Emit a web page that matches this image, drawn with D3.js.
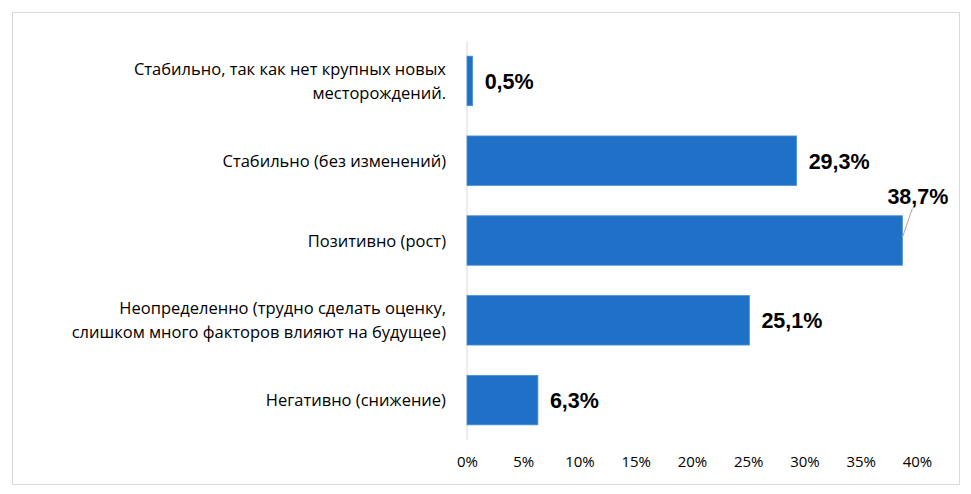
<!DOCTYPE html><html><head><meta charset="utf-8"><script src="https://cdn.jsdelivr.net/npm/d3@7"></script>
<style>body{margin:0;background:#fff}</style></head><body><svg id="c" width="971" height="494"></svg>
<script>
const categories=[["Стабильно, так как нет крупных новых","месторождений."],["Стабильно (без изменений)"],["Позитивно (рост)"],["Неопределенно (трудно сделать оценку,","слишком много факторов влияют на будущее)"],["Негативно (снижение)"]];
const values=[0.5,29.3,38.7,25.1,6.3];
const valueLabels=["0,5%","29,3%","38,7%","25,1%","6,3%"];
const ticks=[0,5,10,15,20,25,30,35,40];
const svg=d3.select("#c");
const font="'Liberation Sans', Arial, sans-serif";
const font2="'Open Sans', sans-serif";
svg.append("rect").attr("x",12.5).attr("y",12.5).attr("width",947).attr("height",472).attr("fill","#fff").attr("stroke","#d9d9d9");
const x=d3.scaleLinear().domain([0,40]).range([467,917]);
const y=d3.scaleBand().domain(d3.range(5)).range([41,440]).paddingInner(0.38).paddingOuter(0.19);
svg.append("line").attr("x1",467).attr("x2",467).attr("y1",41).attr("y2",440).attr("stroke","#d9d9d9");
const ax=svg.append("g").attr("transform","translate(0,440)").call(d3.axisBottom(x).tickValues(ticks).tickFormat(d=>d+"%").tickSize(0).tickPadding(16));
ax.select(".domain").remove();
ax.selectAll("text").attr("font-family",font2).attr("font-size",15).attr("fill","#000");
const g=svg.selectAll(".b").data(values).enter().append("g");
g.append("rect").attr("x",x(0)).attr("y",(d,i)=>y(i)).attr("width",d=>x(d)-x(0)).attr("height",y.bandwidth()).attr("fill","#1f71c8").attr("stroke","#4a8fd6").attr("stroke-width",0.8);
categories.forEach((lines,i)=>{
  const cy=y(i)+y.bandwidth()/2;
  const t=svg.append("text").attr("text-anchor","end").attr("font-family",font2).attr("font-size",16.5).attr("fill","#000");
  lines.forEach((l,k)=>t.append("tspan").attr("x",446).attr("y",cy+6-(lines.length-1)*12+k*24).text(l));
});
values.forEach((v,i)=>{
  const cy=y(i)+y.bandwidth()/2;
  if(i===2){
    svg.append("line").attr("x1",x(v)).attr("y1",cy-3).attr("x2",x(v)+10).attr("y2",cy-32).attr("stroke","#a6a6a6");
    svg.append("text").attr("x",x(v)+46).attr("y",cy-37).attr("text-anchor","end").attr("font-family",font).attr("font-weight","bold").attr("font-size",21.5).text(valueLabels[i]);
  } else {
    svg.append("text").attr("x",x(v)+12).attr("y",cy+8).attr("font-family",font).attr("font-weight","bold").attr("font-size",21.5).text(valueLabels[i]);
  }
});
</script></body></html>
